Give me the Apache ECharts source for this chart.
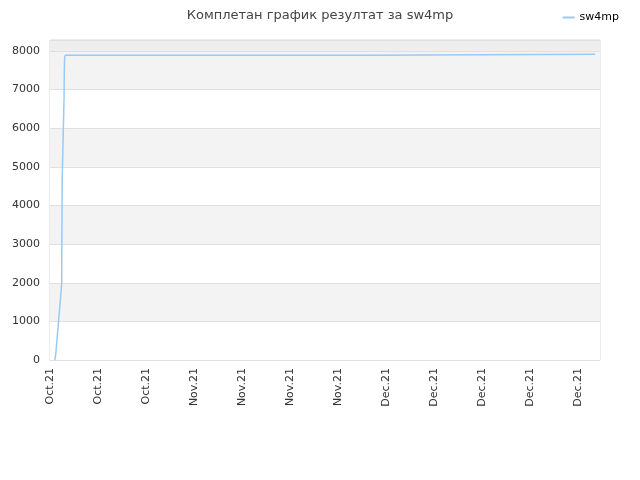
<!DOCTYPE html>
<html>
<head>
<meta charset="utf-8">
<script src="https://cdn.jsdelivr.net/npm/echarts@6/dist/echarts.min.js"></script>
<style>
    html, body { margin: 0; padding: 0; background: #fff; }
    #main-chart { width: 640px; height: 480px; }
</style>
</head>
<body>
<div id="main-chart"></div>
<script>
// days since the first tick (one tick per week)
const dayList = [0.69, 0.83, 0.98, 1.12, 1.27, 1.41, 1.56, 1.70, 1.72, 1.74, 1.76, 1.78, 2.02, 2.05, 2.08, 2.13, 2.21, 13.7, 46.50, 46.52, 79.5];
const scoreList = [0, 130, 440, 741, 1044, 1347, 1648, 1977, 2720, 3394, 4093, 4715, 4715, 6788, 7391, 7823, 7891, 7891, 7891, 7917, 7917];
const tickLabels = ['Oct.21', 'Oct.21', 'Oct.21', 'Nov.21', 'Nov.21', 'Nov.21', 'Nov.21',
    'Dec.21', 'Dec.21', 'Dec.21', 'Dec.21', 'Dec.21'];
const seriesName = 'sw4mp';

const myChart = echarts.init(document.getElementById('main-chart'));

const points = dayList.map(function (d, i) { return [d, scoreList[i]]; });

const option = {
    animation: false,
    title: {
        text: 'Комплетан график резултат за sw4mp',
        left: 'center',
        top: 4,
        textStyle: {
            color: '#444',
            fontWeight: 'normal',
            fontFamily: 'DejaVu Sans',
            fontSize: 13,
        },
    },
    legend: {
        right: 16,
        top: 7,
        itemWidth: 12,
        itemHeight: 2,
        itemGap: 6,
        textStyle: { color: '#000', fontSize: 11, fontFamily: 'DejaVu Sans' },
        data: [{ name: seriesName, icon: 'rect' }],
    },
    grid: {
        left: 50,
        top: 40,
        right: 40,
        bottom: 120,
        show: true,
        borderColor: '#d8d8d8',
        borderWidth: 1,
    },
    xAxis: {
        type: 'value',
        min: 0,
        max: 80.2,
        interval: 7,
        axisLine: { show: false },
        axisTick: { show: false },
        splitLine: { show: false },
        axisLabel: {
            rotate: 90,
            margin: 8,
            color: '#333',
            fontSize: 11,
            fontFamily: 'DejaVu Sans',
            showMaxLabel: false,
            formatter: function (v) {
                return tickLabels[Math.round(v / 7)] || '';
            },
        },
    },
    yAxis: {
        type: 'value',
        min: 0,
        max: 8285,
        interval: 1000,
        axisLine: { show: false },
        axisTick: { show: false },
        axisLabel: {
            color: '#333',
            fontSize: 11,
            fontFamily: 'DejaVu Sans',
            margin: 10,
            showMaxLabel: false,
            formatter: function (v) { return String(v); },
        },
        splitLine: { lineStyle: { color: '#e0e0e0' } },
        splitArea: {
            show: true,
            areaStyle: {
                color: ['#ffffff', '#f3f3f3', '#ffffff', '#f3f3f3', '#ffffff',
                    '#f3f3f3', '#ffffff', '#f3f3f3', '#eeeeee'],
            },
        },
    },
    series: [{
        name: seriesName,
        type: 'line',
        showSymbol: false,
        color: '#99c9f5',
        lineStyle: { color: '#99c9f5', width: 1.5 },
        data: points,
    }],
};

myChart.setOption(option);
</script>
</body>
</html>
